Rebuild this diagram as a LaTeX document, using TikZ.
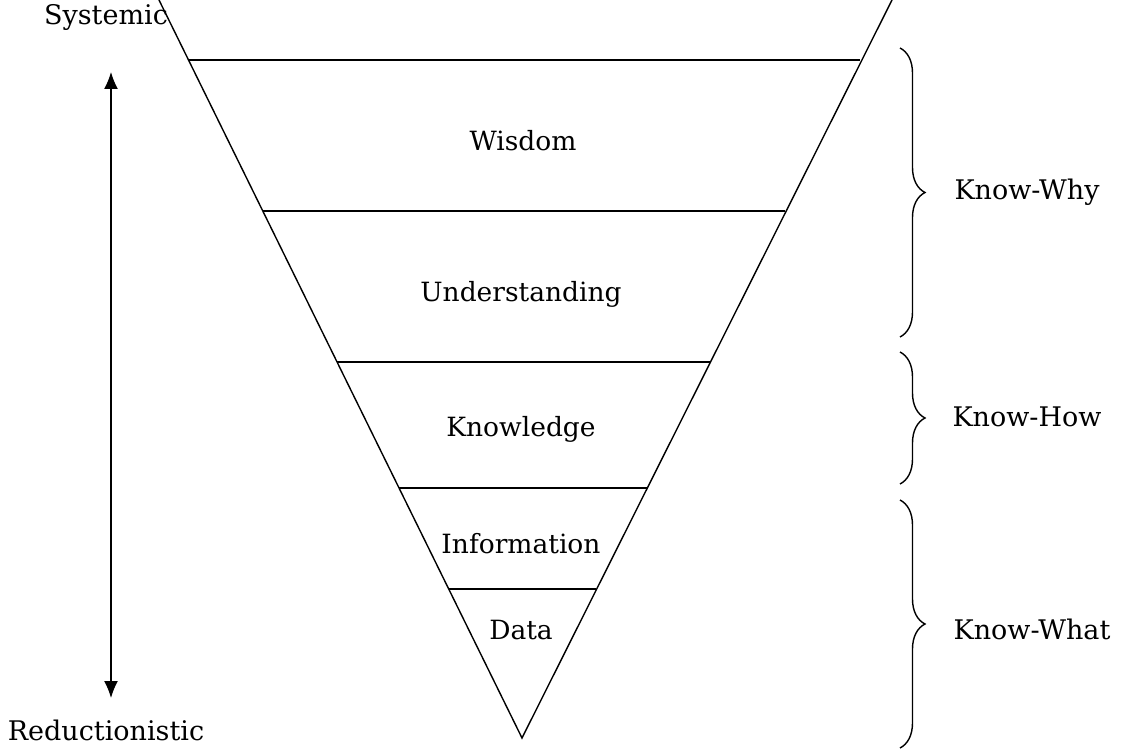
\documentclass[tikz,border=0pt]{standalone}
\usepackage{fontspec}
\setmainfont{DejaVu Serif}
\usetikzlibrary{arrows.meta,decorations.pathreplacing}

\tikzset{
  level/.style={font=\fontsize{26.5}{30}\selectfont},
  side/.style={font=\fontsize{27}{30}\selectfont},
  bracket/.style={decorate,decoration={brace,amplitude=25pt},line width=1.4pt}
}

\begin{document}
\begin{tikzpicture}[x=1pt,y=-1pt,line width=1.4pt]
\useasboundingbox (0,0) rectangle (1125,751);
% funnel
\coordinate (top left) at (159,0);
\coordinate (top right) at (892,0);
\coordinate (apex) at (522,738);
\draw (top left) -- (apex) -- (top right);
% layer separators
\coordinate (l1) at (189,60);  \coordinate (r1) at (860,60);
\coordinate (l2) at (263,211); \coordinate (r2) at (785,211);
\coordinate (l3) at (337,362); \coordinate (r3) at (710,362);
\coordinate (l4) at (399,488); \coordinate (r4) at (647,488);
\coordinate (l5) at (449,589); \coordinate (r5) at (596,589);
\draw (l1) -- (r1);
\draw (l2) -- (r2);
\draw (l3) -- (r3);
\draw (l4) -- (r4);
\draw (l5) -- (r5);
% layer names
\node[level] (wisdom) at (523,141) {Wisdom};
\node[level] (understanding) at (521,294) {Understanding};
\node[level] (knowledge) at (521,429) {Knowledge};
\node[level] (information) at (521,544) {Information};
\node[level] (data) at (521,630) {Data};
% left scale
\node[side] (sys) at (106,17) {Systemic};
\node[side] (red) at (106,730) {Reductionistic};
\draw[{Latex[length=17pt,width=14pt]}-{Latex[length=17pt,width=14pt]}] (111,72) -- (111,698);
% braces on the right
\draw[bracket] (900,48) -- (900,337);
\draw[bracket] (900,352) -- (900,484);
\draw[bracket] (900,500) -- (900,748);
\node[side] (why) at (1027,192) {Know-Why};
\node[side] (how) at (1027,417) {Know-How};
\node[side] (what) at (1032,629) {Know-What};
\end{tikzpicture}
\end{document}
